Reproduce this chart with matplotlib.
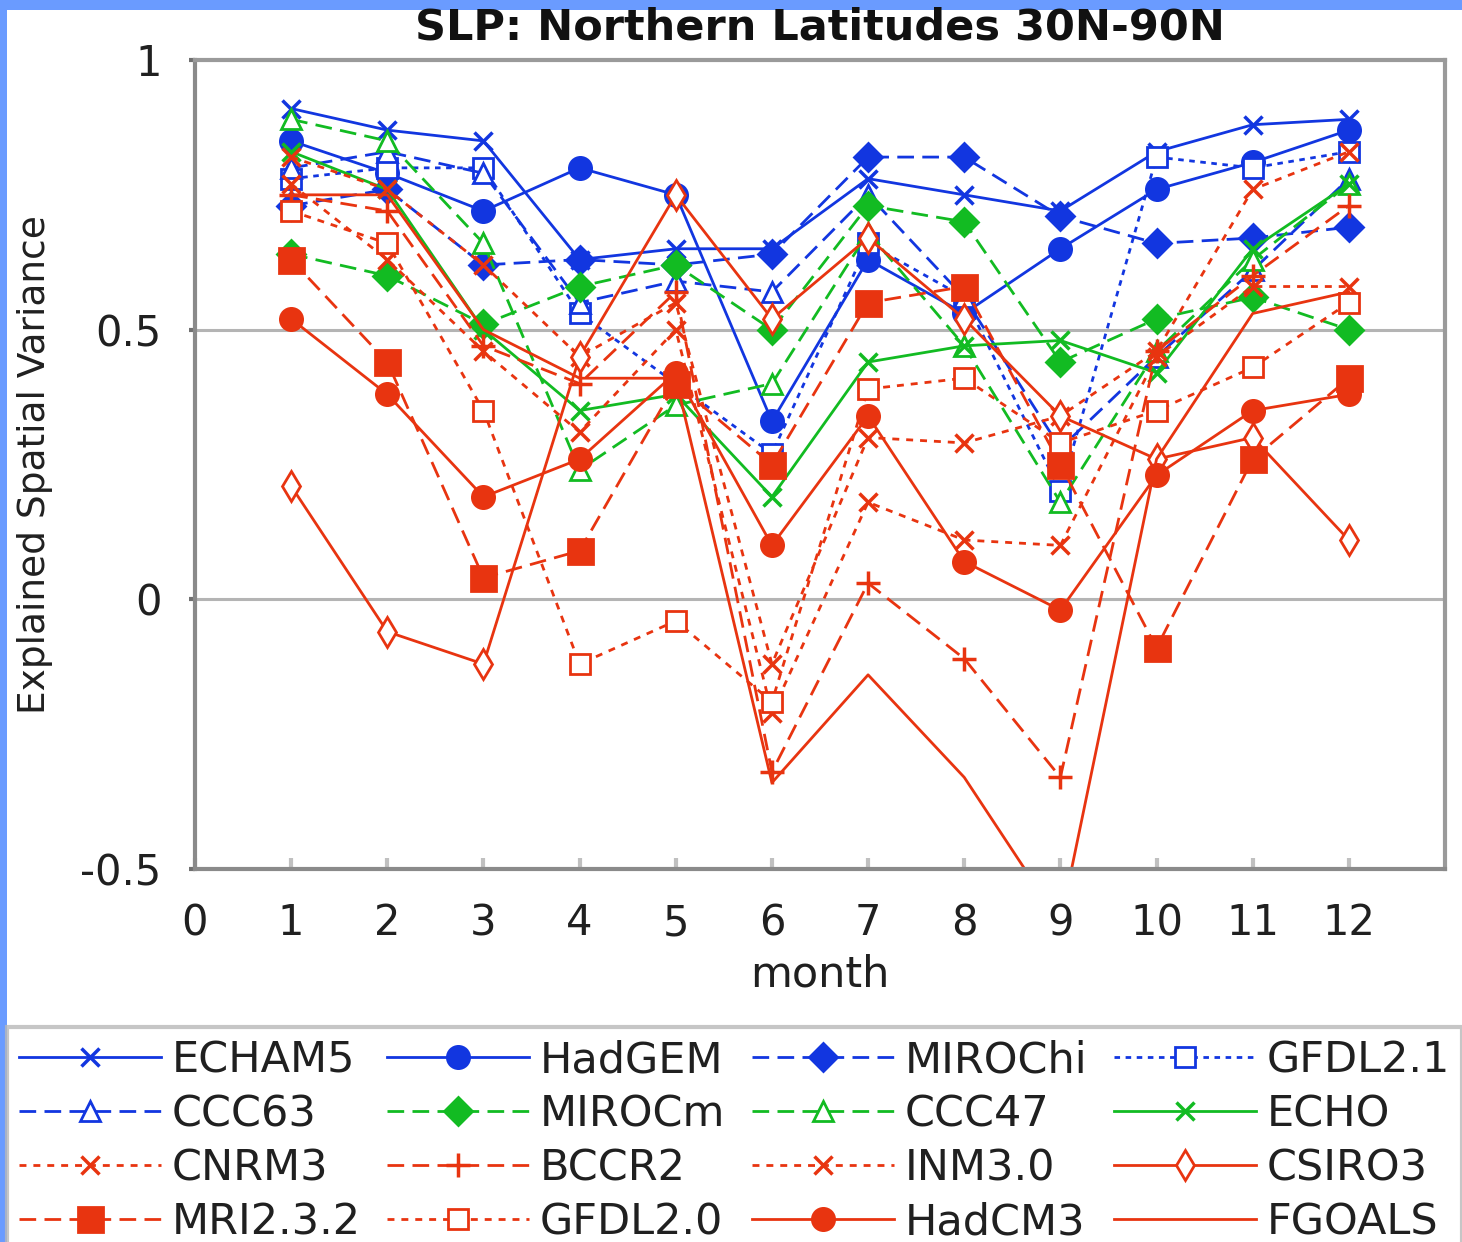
import matplotlib
matplotlib.use("Agg")
import matplotlib.pyplot as plt
from matplotlib.patches import Rectangle

# ---------------- data ----------------
months = [1, 2, 3, 4, 5, 6, 7, 8, 9, 10, 11, 12]
xticks = [0, 1, 2, 3, 4, 5, 6, 7, 8, 9, 10, 11, 12]
yticks = [-0.5, 0, 0.5, 1]
ytick_labels = ["-0.5", "0", "0.5", "1"]

ECHAM5 = [0.91, 0.87, 0.85, 0.63, 0.65, 0.65, 0.78, 0.75, 0.72, 0.83, 0.88, 0.89]
HadGEM = [0.85, 0.79, 0.72, 0.80, 0.75, 0.33, 0.63, 0.53, 0.65, 0.76, 0.81, 0.87]
MIROChi = [0.73, 0.76, 0.62, 0.63, 0.62, 0.64, 0.82, 0.82, 0.71, 0.66, 0.67, 0.69]
GFDL21 = [0.78, 0.80, 0.80, 0.53, 0.40, 0.27, 0.66, 0.56, 0.20, 0.82, 0.80, 0.83]
CCC63 = [0.80, 0.83, 0.79, 0.55, 0.59, 0.57, 0.75, 0.56, 0.28, 0.45, 0.61, 0.78]
MIROCm = [0.64, 0.60, 0.51, 0.58, 0.62, 0.50, 0.73, 0.70, 0.44, 0.52, 0.56, 0.50]
CCC47 = [0.89, 0.85, 0.66, 0.24, 0.36, 0.40, 0.68, 0.47, 0.18, 0.46, 0.63, 0.77]
ECHO = [0.83, 0.76, 0.50, 0.35, 0.38, 0.19, 0.44, 0.47, 0.48, 0.42, 0.65, 0.77]
CNRM3 = [0.82, 0.76, 0.62, 0.45, 0.55, -0.12, 0.30, 0.29, 0.34, 0.46, 0.76, 0.83]
BCCR2 = [0.75, 0.72, 0.47, 0.40, 0.57, -0.32, 0.03, -0.11, -0.33, 0.46, 0.60, 0.73]
INM30 = [0.77, 0.63, 0.46, 0.31, 0.50, -0.21, 0.18, 0.11, 0.10, 0.45, 0.58, 0.58]
CSIRO3 = [0.21, -0.06, -0.12, 0.45, 0.75, 0.52, 0.67, 0.52, 0.34, 0.26, 0.30, 0.11]
MRI232 = [0.63, 0.44, 0.04, 0.09, 0.40, 0.25, 0.55, 0.58, 0.25, -0.09, 0.26, 0.41]
GFDL20 = [0.72, 0.66, 0.35, -0.12, -0.04, -0.19, 0.39, 0.41, 0.29, 0.35, 0.43, 0.55]
HadCM3 = [0.52, 0.38, 0.19, 0.26, 0.42, 0.10, 0.34, 0.07, -0.02, 0.23, 0.35, 0.38]
FGOALS = [0.75, 0.75, 0.50, 0.41, 0.41, -0.34, -0.14, -0.33, -0.60, 0.26, 0.53, 0.57]

# ---------------- styles ----------------
BLUE = "#1236e0"
GREEN = "#12bb22"
RED = "#e83410"

DASH = (0, (6, 3))
DOT = (0, (2, 2))
SDOT = (0, (2.5, 2.5))

series = [
    ("ECHAM5", ECHAM5, BLUE, "-", "x", 13, True),
    ("HadGEM", HadGEM, BLUE, "-", "o", 16, True),
    ("MIROChi", MIROChi, BLUE, DASH, "D", 14, True),
    ("GFDL2.1", GFDL21, BLUE, DOT, "s", 14, False),
    ("CCC63", CCC63, BLUE, DASH, "^", 15, False),
    ("MIROCm", MIROCm, GREEN, DASH, "D", 14, True),
    ("CCC47", CCC47, GREEN, DASH, "^", 15, False),
    ("ECHO", ECHO, GREEN, "-", "x", 13, True),
    ("CNRM3", CNRM3, RED, SDOT, "x", 13, True),
    ("BCCR2", BCCR2, RED, DASH, "+", 17, True),
    ("INM3.0", INM30, RED, SDOT, "x", 13, True),
    ("CSIRO3", CSIRO3, RED, "-", "d", 15, False),
    ("MRI2.3.2", MRI232, RED, DASH, "s", 18, True),
    ("GFDL2.0", GFDL20, RED, SDOT, "s", 15, False),
    ("HadCM3", HadCM3, RED, "-", "o", 16, True),
    ("FGOALS", FGOALS, RED, "-", "None", 10, True),
]

plt.rcParams["font.family"] = ["DejaVu Sans"]

W, H = 1462, 1242
fig = plt.figure(figsize=(W / 100, H / 100), dpi=100)
fig.patch.set_facecolor("white")

# blue window border
fig.patches.append(Rectangle((0, 1 - 10 / H), 1, 10 / H, transform=fig.transFigure,
                             facecolor="#6a9bff", edgecolor="none", zorder=0))
fig.patches.append(Rectangle((0, 0), 7 / W, 1, transform=fig.transFigure,
                             facecolor="#6a9bff", edgecolor="none", zorder=0))

ax = fig.add_axes([195 / W, 1 - 869 / H, (1445 - 195) / W, (869 - 60) / H])

for y in [0, 0.5]:
    ax.axhline(y, color="#b4b4b4", lw=2.2, zorder=0.5)

handles = []
for name, vals, col, ls, mk, ms, filled in series:
    fc = col if filled else "white"
    ln, = ax.plot(months, vals, color=col, linestyle=ls, lw=2.0,
                  marker=mk, markersize=ms, markerfacecolor=fc,
                  markeredgecolor=col, markeredgewidth=2.5 if mk in ("x", "+") else 2.0,
                  label=name, clip_on=True)
    handles.append(ln)

ax.set_xlim(0, 13)
ax.set_ylim(-0.5, 1)
ax.set_xticks(xticks)
ax.set_xticklabels([str(t) for t in xticks])
ax.set_yticks(yticks)
ax.set_yticklabels(ytick_labels)

for s in ax.spines.values():
    s.set_color("#9a9a9a")
    s.set_linewidth(3)
ax.spines["left"].set_color("#8a8a8a")
ax.spines["bottom"].set_color("#8a8a8a")

ax.tick_params(axis="x", direction="in", length=8, width=3, color="#c0c0c0",
               labelsize=30, labelcolor="#202020", pad=24)
ax.tick_params(axis="y", direction="out", length=4, width=3, color="#707070",
               labelsize=30, labelcolor="#202020", pad=20)

ax.set_xlabel("month", fontsize=31, color="#202020")
ax.xaxis.set_label_coords(0.5, -0.131)
ax.xaxis.label.set_va("center")
ax.set_ylabel("Explained Spatial Variance", fontsize=27, color="#202020")
ax.yaxis.set_label_coords(-0.128, 0.5)
ax.yaxis.label.set_va("center")

fig.text(820 / W, 1 - 28 / H, "SLP: Northern Latitudes 30N-90N", ha="center",
         va="center", fontsize=31, fontweight="bold", color="#111111")

# legend, filled row-wise
ncol = 4
labels = [s[0] for s in series]
order = [r * ncol + c for c in range(ncol) for r in range(len(series) // ncol)]
leg = fig.legend([handles[i] for i in order], [labels[i] for i in order],
                 ncol=ncol, loc="upper left",
                 bbox_to_anchor=(7 / W, 0, 1 - 7 / W, 1 - 1027 / H),
                 mode="expand", fontsize=31, frameon=True, fancybox=False,
                 borderpad=0.28, labelspacing=0.28, handlelength=3.3,
                 handletextpad=0.25, columnspacing=0.5, numpoints=1,
                 borderaxespad=0)
leg.get_frame().set_edgecolor("#b8b8b8")
leg.get_frame().set_linewidth(3)
for t in leg.get_texts():
    t.set_color("#202020")

fig.savefig("out.png", dpi=100, facecolor="white")
